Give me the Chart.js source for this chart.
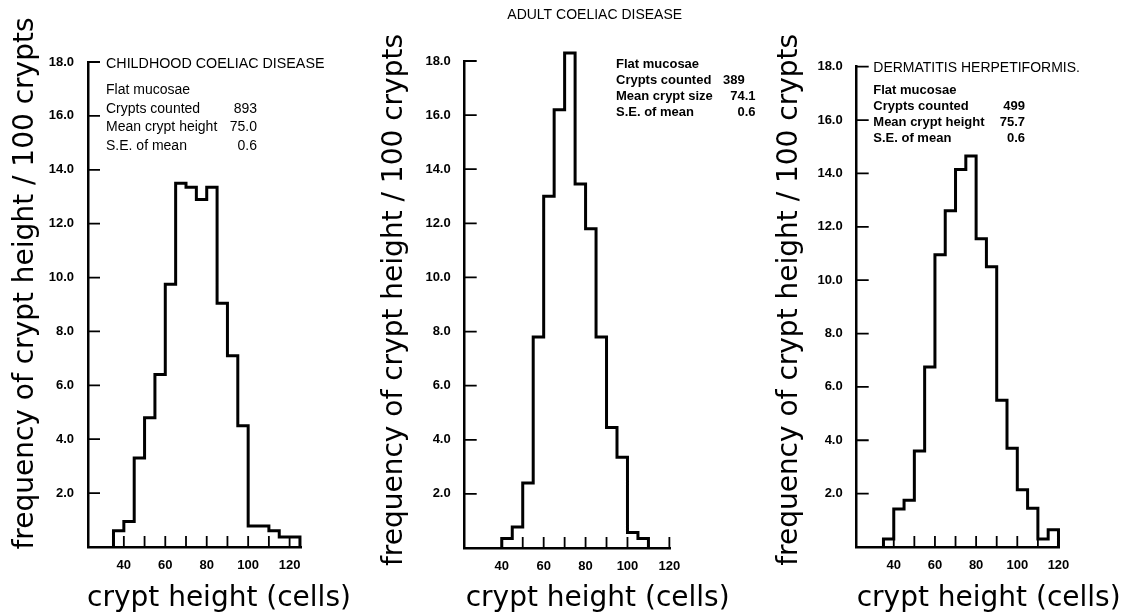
<!DOCTYPE html>
<html><head><meta charset="utf-8">
<script src="https://cdn.jsdelivr.net/npm/chart.js@4.4.0/dist/chart.umd.min.js"></script>
<style>
html,body{margin:0;padding:0;background:#fff;}
#wrap{position:relative;width:1129px;height:616px;overflow:hidden;background:#fff;}
#wrap canvas{position:absolute;left:0;top:0;}
</style></head><body>
<div id="wrap">
<canvas id="c1"></canvas>
<canvas id="c2"></canvas>
<canvas id="c3"></canvas>
</div>
<script>
// ---------------- data ----------------
const binWidth = 5;
const childBinStarts = [35,40,45,50,55,60,65,70,75,80,85,90,95,100,105,110,115,120];
const childFreq      = [0.6,0.95,3.3,4.8,6.4,9.75,13.5,13.35,12.9,13.35,9.05,7.1,4.5,0.78,0.78,0.6,0.37,0.37];
const adultBinStarts = [40,45,50,55,60,65,70,75,80,85,90,95,100,105];
const adultFreq      = [0.35,0.78,2.4,7.8,13.0,16.2,18.3,13.45,11.8,7.8,4.45,3.35,0.57,0.35];
const dhBinStarts    = [35,40,45,50,55,60,65,70,75,80,85,90,95,100,105,110,115];
const dhFreq         = [0.3,1.42,1.75,3.6,6.75,10.95,12.6,14.15,14.65,11.55,10.5,5.5,3.7,2.15,1.45,0.3,0.65];

const yTickValues = [2,4,6,8,10,12,14,16,18];
const xTickLabels = [40,60,80,100,120];
const xTickMarks  = [40,50,60,70,80,90,100,110,120];

const yAxisTitle = 'frequency of crypt height / 100 crypts';
const xAxisTitle = 'crypt height (cells)';

const childTitle = 'CHILDHOOD COELIAC DISEASE';
const childInfoLabels = ['Flat mucosae','Crypts counted','Mean crypt height','S.E. of mean'];
const childInfoValues = ['','893','75.0','0.6'];
const adultTitle = 'ADULT COELIAC DISEASE';
const adultInfoLabels = ['Flat mucosae','Crypts counted','Mean crypt size','S.E. of mean'];
const adultInfoValues = ['','389','74.1','0.6'];
const dhTitle = 'DERMATITIS HERPETIFORMIS.';
const dhInfoLabels = ['Flat mucosae','Crypts counted','Mean crypt height','S.E. of mean'];
const dhInfoValues = ['','499','75.7','0.6'];

// ---------------- helpers ----------------
function histOutline(starts, freq){
  const pts = [{x: starts[0], y: 0}];
  starts.forEach((s, i) => {
    pts.push({x: s, y: freq[i]});
    pts.push({x: s + binWidth, y: freq[i]});
  });
  pts.push({x: starts[starts.length-1] + binWidth, y: 0});
  return pts;
}

const W = 1129, H = 616;
const TICK_FONT = {family: "'Liberation Sans', Arial, sans-serif", size: 13, weight: 'bold'};
const AXIS_TITLE_FONT = "28px 'DejaVu Sans', sans-serif";

const decor = {
  id: 'decor',
  afterDraw(chart, args, o) {
    const {ctx, chartArea: ca, scales: {x, y}} = chart;
    ctx.save();
    ctx.strokeStyle = '#000';
    ctx.lineWidth = 1.8;
    ctx.beginPath();
    xTickMarks.forEach(v => {
      const px = x.getPixelForValue(v);
      ctx.moveTo(px, ca.bottom); ctx.lineTo(px, ca.bottom - 11);
    });
    yTickValues.forEach(v => {
      const py = y.getPixelForValue(v);
      ctx.moveTo(ca.left, py); ctx.lineTo(ca.left + 12, py);
    });
    ctx.stroke();
    ctx.fillStyle = '#000';

    // axis titles
    ctx.font = AXIS_TITLE_FONT;
    ctx.textBaseline = 'alphabetic';
    ctx.textAlign = 'left';
    ctx.fillText(xAxisTitle, ca.left + o.xTitleDx, ca.bottom + o.xTitleDy);
    ctx.save();
    ctx.translate(ca.left - o.yTitleDx, (ca.top + ca.bottom) / 2 + o.yTitleDy);
    ctx.rotate(-Math.PI / 2);
    ctx.textAlign = 'center';
    ctx.fillText(yAxisTitle, 0, 0);
    ctx.restore();

    ctx.textBaseline = 'middle';
    // panel title
    ctx.font = o.titleFont;
    ctx.textAlign = o.titleAlign;
    ctx.fillText(o.title, ca.left + o.titleDx, ca.top + o.titleDy);
    // info block
    ctx.font = o.infoFont;
    o.labels.forEach((t, i) => {
      const yy = ca.top + o.infoDy + i * o.infoGap;
      ctx.textAlign = 'left';
      ctx.fillText(t, ca.left + o.infoDx, yy);
      const v = o.values[i];
      if (!v) return;
      if (o.decimalAlign) {
        const dot = v.indexOf('.');
        const intPart = dot >= 0 ? v.slice(0, dot) : v;
        const wInt = ctx.measureText(intPart).width;
        ctx.textAlign = 'left';
        ctx.fillText(v, ca.left + o.valueDx - wInt, yy);
      } else {
        ctx.textAlign = 'right';
        ctx.fillText(v, ca.left + o.valueDx, yy);
      }
    });
    ctx.restore();
  }
};

function makePanel(id, starts, freq, lay, text){
  const cv = document.getElementById(id);
  cv.width = W; cv.height = H;
  cv.style.width = W + 'px'; cv.style.height = H + 'px';
  return new Chart(cv, {
    type: 'line',
    data: { datasets: [{
      data: histOutline(starts, freq),
      borderColor: '#000', borderWidth: 3, pointRadius: 0, fill: false,
      tension: 0, clip: false, borderJoinStyle: 'miter', borderCapStyle: 'butt'
    }]},
    options: {
      responsive: false, animation: false, events: [],
      layout: { padding: { left: lay.left - 60, right: W - lay.right, top: lay.top, bottom: 0 } },
      plugins: { legend: {display: false}, tooltip: {enabled: false}, decor: text },
      scales: {
        x: {
          type: 'linear', min: lay.xMin, max: lay.xMax,
          afterBuildTicks: s => { s.ticks = xTickLabels.map(v => ({value: v})); },
          afterFit: s => { s.height = H - lay.bottom; },
          ticks: { font: TICK_FONT, color: '#000', padding: 11, maxRotation: 0, autoSkip: false,
                   callback: v => String(v) },
          grid: { display: false, drawTicks: false },
          border: { display: true, color: '#000', width: 2.5 },
          title: { display: false }
        },
        y: {
          type: 'linear', min: 0, max: 18,
          afterBuildTicks: s => { s.ticks = yTickValues.map(v => ({value: v})); },
          afterFit: s => { s.width = 60; },
          ticks: { font: TICK_FONT, color: '#000', padding: 14, callback: v => Number(v).toFixed(1) },
          grid: { display: false, drawTicks: false },
          border: { display: true, color: '#000', width: 2.5 },
          title: { display: false }
        }
      }
    },
    plugins: [decor]
  });
}

makePanel('c1', childBinStarts, childFreq,
  {left: 88, right: 301, top: 62, bottom: 547, xMin: 22.7, xMax: 125.5},
  {title: childTitle, titleFont: "14.3px 'Liberation Sans', Arial, sans-serif", titleAlign: 'left',
   titleDx: 18, titleDy: 2, labels: childInfoLabels, values: childInfoValues,
   infoFont: "14px 'Liberation Sans', Arial, sans-serif", infoDx: 18, infoDy: 28, infoGap: 18.7,
   valueDx: 169, decimalAlign: false,
   xTitleDx: -1, xTitleDy: 59, yTitleDx: 55, yTitleDy: -21});

makePanel('c2', adultBinStarts, adultFreq,
  {left: 464.7, right: 670, top: 61, bottom: 548, xMin: 22.3, xMax: 120.3},
  {title: adultTitle, titleFont: "14px 'Liberation Sans', Arial, sans-serif", titleAlign: 'center',
   titleDx: 130, titleDy: -46, labels: adultInfoLabels, values: adultInfoValues,
   infoFont: "bold 13px 'Liberation Sans', Arial, sans-serif", infoDx: 151.3, infoDy: 3, infoGap: 16,
   valueDx: 280, decimalAlign: true,
   xTitleDx: 1, xTitleDy: 58, yTitleDx: 63, yTitleDy: -4.5});

makePanel('c3', dhBinStarts, dhFreq,
  {left: 856.7, right: 1059.3, top: 66.7, bottom: 547, xMin: 22, xMax: 120.4},
  {title: dhTitle, titleFont: "14px 'Liberation Sans', Arial, sans-serif", titleAlign: 'left',
   titleDx: 16.6, titleDy: 1, labels: dhInfoLabels, values: dhInfoValues,
   infoFont: "bold 13px 'Liberation Sans', Arial, sans-serif", infoDx: 16.6, infoDy: 24, infoGap: 16,
   valueDx: 168.3, decimalAlign: false,
   xTitleDx: 0, xTitleDy: 59, yTitleDx: 60, yTitleDy: -7});
</script>
</body></html>
